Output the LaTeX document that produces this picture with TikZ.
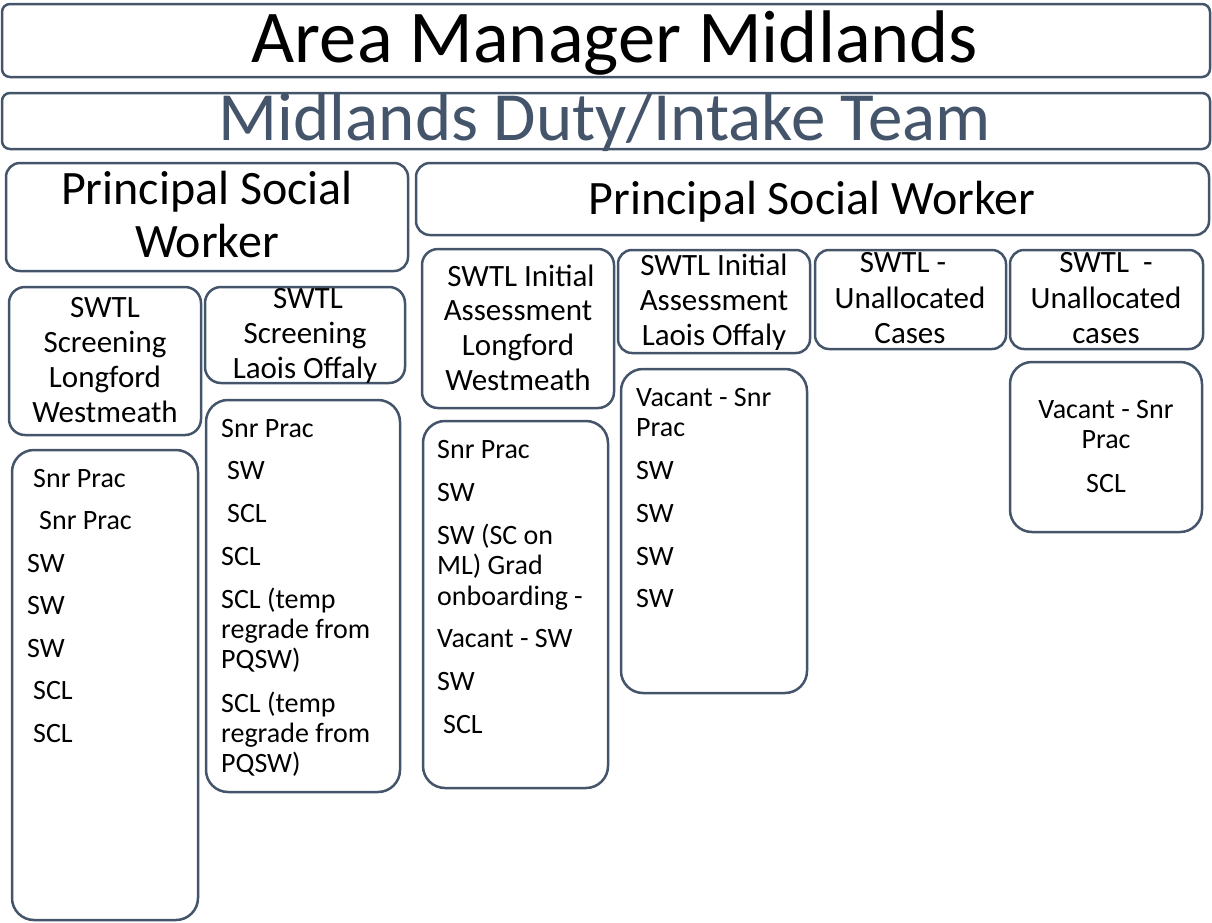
\documentclass[tikz,border=0pt]{standalone}
\usepackage{fontspec}
\setmainfont{Carlito}
\definecolor{edge}{HTML}{44546A}
\begin{document}
\begin{tikzpicture}[x=1pt,y=-1pt,
  box/.style={draw=edge, line width=2.5pt, rounded corners=#1, inner sep=0pt},
  box/.default=14pt,
  lbl/.style={anchor=base, inner sep=0pt, font=\fontsize{31}{35}\selectfont},
  item/.style={anchor=base west, inner sep=0pt, font=\fontsize{28}{30}\selectfont}]
\useasboundingbox (0,0) rectangle (1212,922);

% frames
\node[box=8pt,  minimum width=1208pt, minimum height=73pt]  (am)    at (606,40.5)   {};
\node[box=8pt,  minimum width=1208pt, minimum height=56pt]  (team)  at (606,121)    {};
\node[box=14pt, minimum width=402pt,  minimum height=108pt] (pswA)  at (207,217)    {};
\node[box=14pt, minimum width=793pt,  minimum height=72pt]  (pswB)  at (812.5,199)  {};
\node[box=16pt, minimum width=192pt,  minimum height=148pt] (scrLW) at (105,361)    {};
\node[box=16pt, minimum width=200pt,  minimum height=96pt]  (scrLO) at (305,335)    {};
\node[box=16pt, minimum width=192pt,  minimum height=159pt] (iaLW)  at (518,328.5)  {};
\node[box=14pt, minimum width=192pt,  minimum height=103pt] (iaLO)  at (714,301.5)  {};
\node[box=14pt, minimum width=191pt,  minimum height=99pt]  (unA)   at (910.5,299.5){};
\node[box=14pt, minimum width=193pt,  minimum height=99pt]  (unB)   at (1106.5,299.5){};
\node[box=22pt, minimum width=186pt,  minimum height=470pt] (stA)   at (105,685)    {};
\node[box=22pt, minimum width=194pt,  minimum height=392pt] (stB)   at (303,596)    {};
\node[box=22pt, minimum width=185pt,  minimum height=367pt] (stC)   at (515.5,604.5){};
\node[box=22pt, minimum width=186pt,  minimum height=324pt] (stD)   at (714,531)    {};
\node[box=22pt, minimum width=192pt,  minimum height=170pt] (stE)   at (1106,447)   {};

% headings
\node[anchor=base, inner sep=0pt, font=\fontsize{74.5}{80}\selectfont] (amT) at (615,62) {Area Manager Midlands};
\node[anchor=base, inner sep=0pt, text=edge, font=\fontsize{69}{74}\selectfont] (teamT) at (605,140) {Midlands Duty/Intake Team};
\node[anchor=base, inner sep=0pt, font=\fontsize{48}{52}\selectfont] (pswA1) at (207,204) {Principal Social};
\node[anchor=base, inner sep=0pt, font=\fontsize{48}{52}\selectfont] (pswA2) at (207,257) {Worker};
\node[anchor=base, inner sep=0pt, font=\fontsize{48}{52}\selectfont] (pswB1) at (812,214) {Principal Social Worker};

% team leader boxes
\node[lbl] (scrLW1) at (105,317) {SWTL};
\node[lbl] (scrLW2) at (105,352) {Screening};
\node[lbl] (scrLW3) at (105,387) {Longford};
\node[lbl] (scrLW4) at (105,422) {Westmeath};

\node[lbl] (scrLO1) at (308,308) {SWTL};
\node[lbl] (scrLO2) at (305,343) {Screening};
\node[lbl] (scrLO3) at (305,378) {Laois Offaly};

\node[lbl] (iaLW1) at (521,286) {SWTL Initial};
\node[lbl] (iaLW2) at (518,320) {Assessment};
\node[lbl] (iaLW3) at (518,355) {Longford};
\node[lbl] (iaLW4) at (518,390) {Westmeath};

\node[lbl] (iaLO1) at (714,275) {SWTL Initial};
\node[lbl] (iaLO2) at (714,310) {Assessment};
\node[lbl] (iaLO3) at (714,345) {Laois Offaly};

\node[lbl] (unA1) at (903,272) {SWTL -};
\node[lbl] (unA2) at (910,308) {Unallocated};
\node[lbl] (unA3) at (910,343) {Cases};

\node[lbl] (unB1) at (1106,272) {SWTL\ \ -};
\node[lbl] (unB2) at (1106,308) {Unallocated};
\node[lbl] (unB3) at (1106,343) {cases};

% staff lists
\node[item] (a1) at (33,487) {Snr Prac};
\node[item] (a2) at (39,529) {Snr Prac};
\node[item] (a3) at (27,572) {SW};
\node[item] (a4) at (27,614) {SW};
\node[item] (a5) at (27,657) {SW};
\node[item] (a6) at (33,699) {SCL};
\node[item] (a7) at (33,742) {SCL};

\node[item] (b1) at (221,437) {Snr Prac};
\node[item] (b2) at (227,479) {SW};
\node[item] (b3) at (227,522) {SCL};
\node[item] (b4) at (221,565) {SCL};
\node[item] (b5) at (221,608) {SCL (temp};
\node[item] (b6) at (221,638) {regrade from};
\node[item] (b7) at (221,668) {PQSW)};
\node[item] (b8) at (221,712) {SCL (temp};
\node[item] (b9) at (221,742) {regrade from};
\node[item] (b10) at (221,772) {PQSW)};

\node[item] (c1) at (437,458) {Snr Prac};
\node[item] (c2) at (437,501) {SW};
\node[item] (c3) at (437,544) {SW (SC on};
\node[item] (c4) at (437,574) {ML) Grad};
\node[item] (c5) at (437,605) {onboarding -};
\node[item] (c6) at (437,647) {Vacant - SW};
\node[item] (c7) at (437,690) {SW};
\node[item] (c8) at (443,733) {SCL};

\node[item] (d1) at (636,406) {Vacant - Snr};
\node[item] (d2) at (636,436) {Prac};
\node[item] (d3) at (636,479) {SW};
\node[item] (d4) at (636,522) {SW};
\node[item] (d5) at (636,565) {SW};
\node[item] (d6) at (636,607) {SW};

\node[item, anchor=base] (e1) at (1106,418) {Vacant - Snr};
\node[item, anchor=base] (e2) at (1106,448) {Prac};
\node[item, anchor=base] (e3) at (1106,492) {SCL};
\end{tikzpicture}
\end{document}
